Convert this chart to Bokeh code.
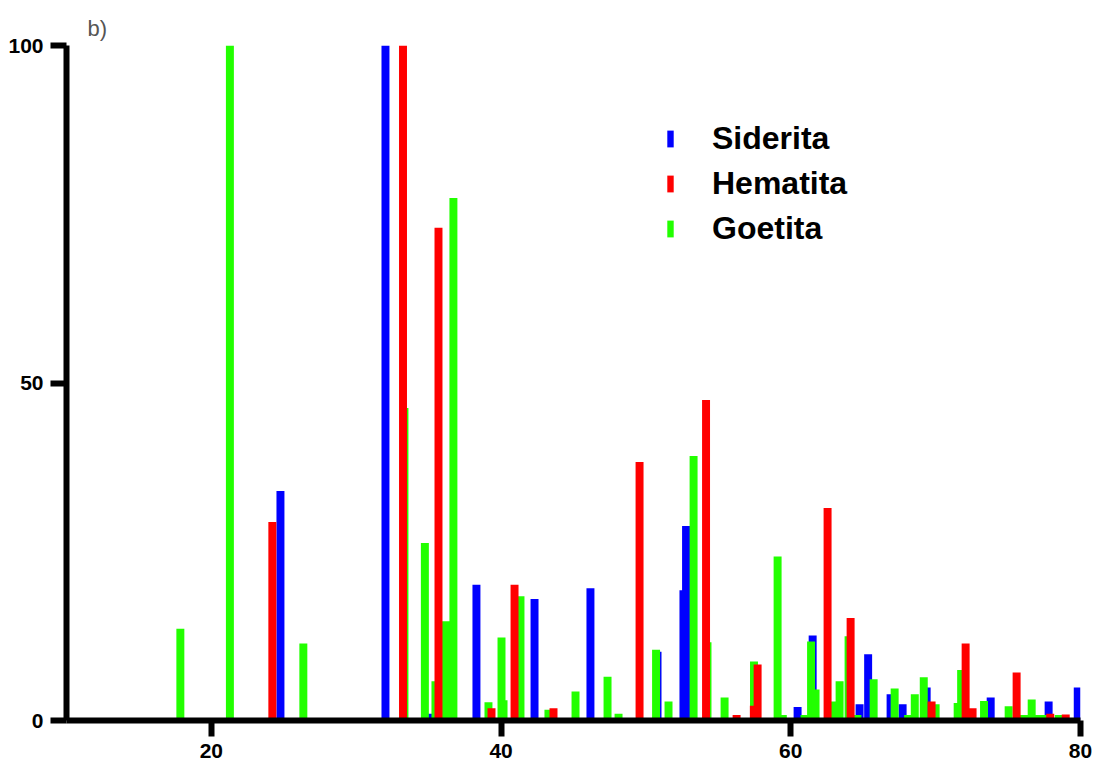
from bokeh.plotting import figure
from bokeh.models import Legend, LegendItem, FixedTicker
from bokeh.embed import file_html
from bokeh.resources import INLINE

# ---- data ----
series_names = ["Siderita", "Hematita", "Goetita"]

siderita_x = [24.77, 32.02, 35.12, 38.30, 42.31, 46.17, 50.80, 52.59, 52.77, 60.47,
              61.51, 64.75, 65.34, 66.89, 67.72, 69.38, 73.80, 77.80, 79.81]
siderita_y = [34.0, 100.0, 1.0, 20.1, 18.0, 19.6, 10.2, 19.3, 28.8, 2.0,
              12.6, 2.4, 9.8, 3.9, 2.4, 4.9, 3.4, 2.8, 4.9]

hematita_x = [24.21, 33.23, 35.68, 39.34, 40.93, 43.62, 49.56, 54.15, 56.26, 57.45,
              57.71, 62.54, 64.13, 66.17, 69.72, 72.07, 72.55, 75.32, 75.59, 77.91,
              78.98, 79.63]
hematita_y = [29.4, 100.0, 73.0, 1.8, 20.1, 1.8, 38.3, 47.5, 0.8, 2.2,
              8.3, 31.5, 15.2, -1.0, 2.8, 11.4, 1.8, -1.2, 7.1, 1.0,
              0.9, -1.2]

goetita_x = [17.86, 21.28, 26.35, 33.33, 34.74, 35.47, 36.20, 36.71, 39.13, 40.03,
             40.17, 41.34, 43.27, 45.14, 47.35, 48.11, 50.70, 51.56, 53.29, 54.25,
             55.43, 57.46, 59.09, 59.45, 60.95, 61.40, 61.71, 62.96, 63.37, 63.99,
             64.60, 65.72, 67.17, 68.10, 68.56, 69.18, 70.00, 71.52, 71.76, 73.34,
             75.04, 76.10, 76.63, 77.10, 77.40, 78.50]
goetita_y = [13.6, 100.0, 11.4, 46.3, 26.3, 5.8, 14.7, 77.4, 2.7, 12.3,
             3.0, 18.4, 1.6, 4.3, 6.5, 1.0, 10.5, 2.8, 39.2, 11.6,
             3.4, 8.75, 24.3, 0.8, 0.8, 11.7, 4.6, 2.8, 5.8, 12.5,
             0.8, 6.1, 4.75, 0.8, 3.9, 6.4, 2.4, 2.6, 7.5, 2.9,
             2.1, 0.8, 3.1, 0.8, 0.8, 0.8]

x_ticks = [20, 40, 60, 80]
y_ticks = [0, 50, 100]
panel_title = "b)"

colors = {"Siderita": "#0000FF", "Hematita": "#FF0000", "Goetita": "#22FF00"}
FONT = "Liberation Sans"

p = figure(width=1094, height=767, x_range=(10, 80), y_range=(0, 100),
           output_backend="svg", toolbar_location=None,
           min_border_left=66, min_border_right=14, min_border_top=45, min_border_bottom=47)
p.outline_line_color = None
p.grid.visible = False
p.background_fill_color = "white"

p.title.text = panel_title
p.title.text_font = FONT
p.title.text_font_style = "normal"
p.title.text_font_size = "22px"
p.title.text_color = "#555555"
p.title.offset = 21
p.title.standoff = 10

bar_w = 0.55
rb = p.vbar(x=siderita_x, top=siderita_y, width=bar_w, bottom=0,
            fill_color=colors["Siderita"], line_color=None)
rg = p.vbar(x=goetita_x, top=goetita_y, width=bar_w, bottom=0,
            fill_color=colors["Goetita"], line_color=None)
rr = p.vbar(x=hematita_x, top=hematita_y, width=bar_w, bottom=0,
            fill_color=colors["Hematita"], line_color=None)

for ax, ticks in ((p.xaxis, x_ticks), (p.yaxis, y_ticks)):
    ax.ticker = FixedTicker(ticks=ticks)
    ax.minor_tick_line_color = None
    ax.axis_line_width = 6
    ax.axis_line_color = "black"
    ax.major_tick_line_width = 6
    ax.major_tick_line_color = "black"
    ax.major_tick_out = 16
    ax.major_tick_in = 0
    ax.major_label_text_font = FONT
    ax.major_label_text_font_style = "bold"
    ax.major_label_text_font_size = "21px"
    ax.major_label_text_color = "black"
    ax.major_label_standoff = 7

legend = Legend(items=[LegendItem(label=series_names[0], renderers=[rb]),
                       LegendItem(label=series_names[1], renderers=[rr]),
                       LegendItem(label=series_names[2], renderers=[rg])],
                location=(600, 473), glyph_width=8, glyph_height=21,
                label_standoff=38, label_text_font=FONT, label_text_font_style="bold",
                label_text_font_size="32px", label_text_color="black",
                spacing=8, padding=0, margin=0,
                border_line_alpha=0, background_fill_alpha=0)
p.add_layout(legend, "center")

open("out.html", "w").write(file_html(p, INLINE))
